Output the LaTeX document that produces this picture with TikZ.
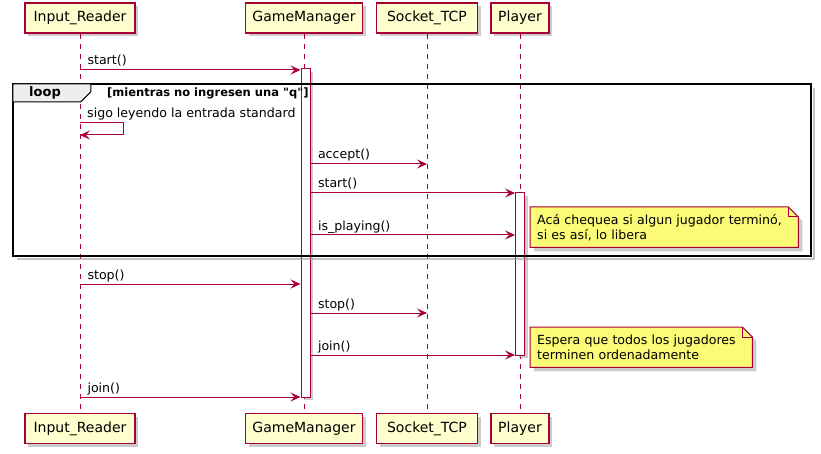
\documentclass[tikz,border=0pt]{standalone}
\usepackage{fontspec}
\setmainfont{DejaVu Sans}
\newfontfamily\condfont{DejaVu Sans}
\usepackage{tikz}
\usetikzlibrary{arrows.meta,positioning,calc,shadows,backgrounds}
\definecolor{umlred}{HTML}{A80036}
\definecolor{umlbox}{HTML}{FEFECE}
\definecolor{umlnote}{HTML}{FBFB77}
\definecolor{umltab}{HTML}{EEEEEE}
\definecolor{umlshade}{HTML}{9A9A9A}

\tikzset{
  actor/.style={draw=umlred, fill=umlbox, line width=1.1pt,
    minimum height=30pt, inner sep=0pt,
    font=\fontsize{14}{16}\selectfont,
    drop shadow={shadow xshift=3pt, shadow yshift=-3pt, fill=umlshade, opacity=0.5}},
  lifeline/.style={draw=umlred, line width=0.8pt, dash pattern=on 5pt off 5pt},
  activation/.style={draw=umlred, fill=white, line width=1pt, minimum width=9pt, inner sep=0pt,
    drop shadow={shadow xshift=3pt, shadow yshift=-3pt, fill=umlshade, opacity=0.5}},
  msg/.style={draw=umlred, line width=1pt, -{Stealth[length=10pt,width=9pt,inset=4pt]}},
  msglabel/.style={anchor=base west, inner sep=0pt, xshift=7pt, yshift=5pt,
    font=\fontsize{12.6}{15}\selectfont},
  notetext/.style={anchor=north west, align=left, inner xsep=7pt, inner ysep=0pt,
    minimum height=40pt, font=\fontsize{12.6}{15}\selectfont},
  noteshape/.style={draw=umlred, fill=umlnote, line width=1pt},
  noteshadow/.style={fill=umlshade, opacity=0.5},
  loopframe/.style={draw=black, line width=1.6pt, inner sep=0pt}
}

\begin{document}
\begin{tikzpicture}[x=1pt,y=-1pt]
\useasboundingbox (0,0) rectangle (821,454);

% rows of the messages
\coordinate (rowA) at (0,70);
\coordinate (rowB) at (0,123);
\coordinate (rowBb) at (0,135);
\coordinate (rowC) at (0,164);
\coordinate (rowD) at (0,193);
\coordinate (rowE) at (0,235);
\coordinate (rowF) at (0,284);
\coordinate (rowG) at (0,313);
\coordinate (rowH) at (0,355);
\coordinate (rowI) at (0,397);

% participants
\node[actor, minimum width=110pt] (irtop) at (80,18) {Input\_Reader};
\node[actor, minimum width=117pt] (gmtop) at (304,18) {GameManager};
\node[actor, minimum width=101pt] (sktop) at (427,18) {Socket\_TCP};
\node[actor, minimum width=58pt] (pltop) at (520,18) {Player};

\node[actor, minimum width=110pt] (irbot) at (80,428.5) {Input\_Reader};
\node[actor, minimum width=117pt] (gmbot) at (304,428.5) {GameManager};
\node[actor, minimum width=101pt] (skbot) at (427,428.5) {Socket\_TCP};
\node[actor, minimum width=58pt] (plbot) at (520,428.5) {Player};

\draw[lifeline] (irtop.south) -- (irbot.north);
\draw[lifeline] (gmtop.south) -- (gmbot.north);
\draw[lifeline] (sktop.south) -- (skbot.north);
\draw[lifeline] (pltop.south) -- (plbot.north);

% activations
\node[activation, minimum height=328pt] (gmact) at (305.5,233) {};
\node[activation, minimum height=162pt] (plact) at (520,274) {};

% loop frame
\node[minimum width=798pt, minimum height=172pt, inner sep=0pt] (loop) at (412,170) {};
\draw[umlshade, line width=2pt, opacity=0.6]
  ($(loop.north east)+(3,4)$) -- ($(loop.south east)+(3,3)$) -- ($(loop.south west)+(4,3)$);
\draw[loopframe] (loop.north west) rectangle (loop.south east);
\filldraw[fill=umltab, draw=black, line width=1pt]
  (loop.north west) -- ++(78,0) -- ++(0,8) -- ++(-10,10) -- ($(loop.north west)+(0,18)$) -- cycle;
\node[font=\fontsize{13}{15}\selectfont\bfseries, anchor=base, inner sep=0pt] (looplabel)
  at (45,97) {loop};
\node[font=\condfont\fontsize{11.5}{13}\selectfont\bfseries, anchor=base west, inner sep=0pt] (loopcond)
  at (107,97) {[mientras no ingresen una "q"]};

% messages
\draw[msg] (irtop.south |- rowA) -- node[msglabel, pos=0] (lA) {start()} (gmact.west |- rowA);
\draw[msg] (irtop.south |- rowB) -- ++(43,0) -- ++(0,12) -- (irtop.south |- rowBb);
\node[msglabel] (lB) at (irtop.south |- rowB) {sigo leyendo la entrada standard};
\draw[msg] (gmact.east |- rowC) -- node[msglabel, pos=0] (lC) {accept()} (sktop.south |- rowC);
\draw[msg] (gmact.east |- rowD) -- node[msglabel, pos=0] (lD) {start()} (plact.west |- rowD);
\draw[msg] (gmact.east |- rowE) -- node[msglabel, pos=0] (lE) {is\_playing()} (plact.west |- rowE);
\draw[msg] (irtop.south |- rowF) -- node[msglabel, pos=0] (lF) {stop()} (gmact.west |- rowF);
\draw[msg] (gmact.east |- rowG) -- node[msglabel, pos=0] (lG) {stop()} (sktop.south |- rowG);
\draw[msg] (gmact.east |- rowH) -- node[msglabel, pos=0] (lH) {join()} (plact.west |- rowH);
\draw[msg] (irtop.south |- rowI) -- node[msglabel, pos=0] (lI) {join()} (gmact.west |- rowI);

% notes
\node[notetext, text width=254pt] (note1) at (530,207)
  {Acá chequea si algun jugador terminó,\\si es así, lo libera};
\node[notetext, text width=208pt] (note2) at (530,327)
  {Espera que todos los jugadores\\terminen ordenadamente};
\begin{scope}[on background layer]
\foreach \nn in {note1,note2}{
  \fill[noteshadow] ($(\nn.north west)+(4,4)$) -- ($(\nn.north east)+(-6,4)$) -- ($(\nn.north east)+(4,14)$)
    -- ($(\nn.south east)+(4,4)$) -- ($(\nn.south west)+(4,4)$) -- cycle;
  \filldraw[noteshape] (\nn.north west) -- ($(\nn.north east)+(-10,0)$) -- ($(\nn.north east)+(0,10)$)
    -- (\nn.south east) -- (\nn.south west) -- cycle;
  \draw[umlred, line width=1pt] ($(\nn.north east)+(-10,0)$) -- ($(\nn.north east)+(-10,10)$)
    -- ($(\nn.north east)+(0,10)$);
}
\end{scope}
\end{tikzpicture}
\end{document}
